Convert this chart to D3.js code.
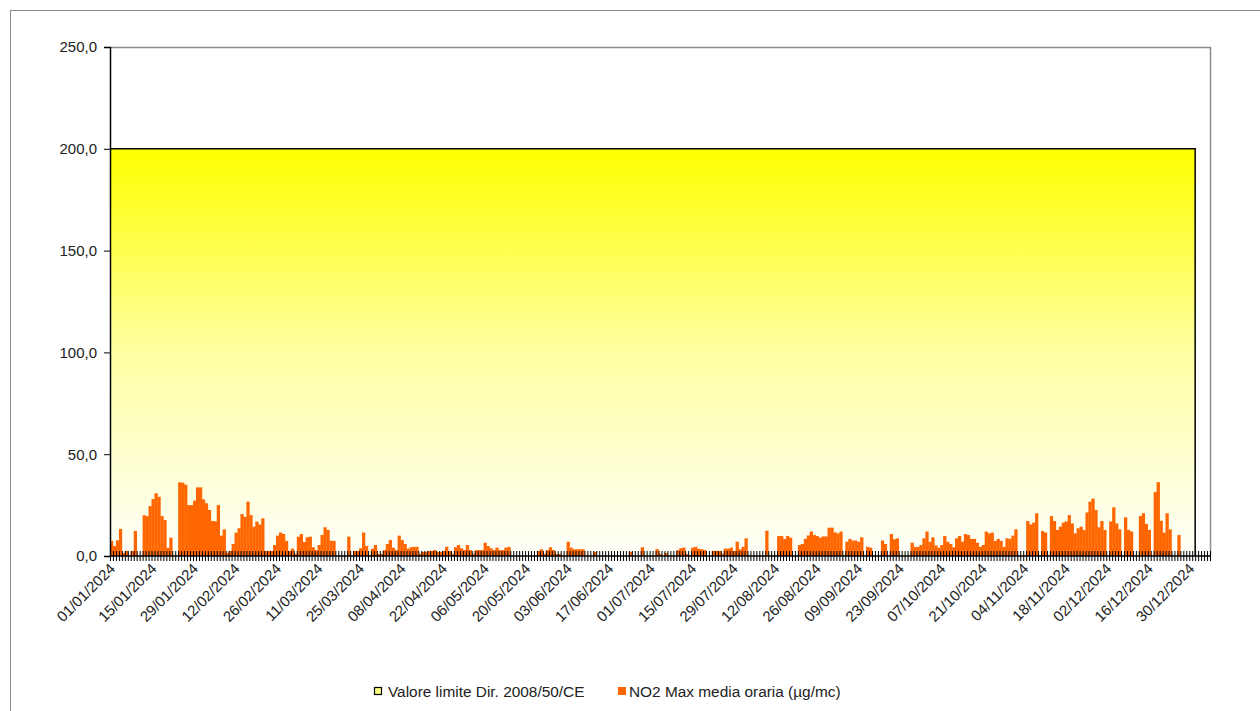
<!DOCTYPE html>
<html>
<head>
<meta charset="utf-8">
<script src="https://cdn.jsdelivr.net/npm/d3@7"></script>
<style>
  body { margin: 0; background: #fff; }
  text { font-family: Arial, "Liberation Sans", sans-serif; fill: #222; }
</style>
</head>
<body>
<div id="chart"></div>
<script>
// NO2 max media oraria, one value per day of 2024 (null = no data)
var jan = [7.4,4.9,7.7,13.3,1.5,2.5,null,2.5,12.3,null, null,20,19.6,24.5,28,30.8,29.1,19.6,17.7,4, 9,null,null,36.2,36,35,25,25,27.2,33.7, 33.7];
var feb = [27.8,25.9,22.6,17.2,17,25,10,13.1,1.5,2.5, 5.9,11.5,13.6,20.6,19.2,26.7,20.1,14.4,16.9,15.5, 18.5,2.5,2.5,2.5,5.4,10,11.5,10.8,7.4];
var mar = [2.5,3.6,1,9.5,10.8,6.9,9.2,9.5,4.3,2.9, 5.4,10.3,14.1,12.8,7.5,7.4,null,null,null,null, 9.5,null,2.5,2.5,3.8,11.5,4.9,null,3.6,5.4, 1];
var apr = [1,2.9,5.9,7.9,4.1,2.9,10,7.9,5.9,3.6, 4.3,4.5,4.5,1,2,2,2.5,2.5,2.9,2, 2,2.5,4.5,2.5,1,4.3,5.4,3.8,2.9,5.4];
var may = [2.9,1,2.9,2.9,2.9,6.5,4.9,3.8,2.9,4.1, 2.9,2.9,4.1,4.5,null,null,null,null,null,null, null,null,null,2.5,3.3,1,2.9,4.3,2.9,1, 1];
var jun = [null,null,7,4.1,3.3,3.3,3.3,3.3,null,null, null,2,null,null,null,null,null,null,null,null, null,null,null,2,null,null,null,4.3,null,null];
var jul = [null,null,3.4,1,null,1.5,null,null,null,2.9, 3.8,4.1,1,null,4.1,4.5,3.6,3.3,2.9,null, null,2.5,2.5,2.5,1,3.6,3.6,4.1,2.5,7, 3.3];
var aug = [4.5,8.7,null,null,null,null,null,null,12.4,null, null,null,9.8,9.8,8.4,9.8,9,null,null,5.4, 5.9,8.4,10.1,12,10.3,9.8,9,9.6,9.6,13.9, 13.9];
var sep = [11.6,11.1,12,null,7,8.4,7.6,7.6,7,9.2, null,4.5,4.1,null,null,null,7.6,5.9,null,10.8, 8.2,8.7,null,null,null,null,6.5,4.5,4.5,5.4];
var oct = [8.7,12,7,9.2,5.2,4.1,5.4,9.8,7,5.9, 4.3,8.7,9.8,7,10.8,10.3,8.4,8.4,6.5,4.5, 5.4,12,11.1,11.5,7.4,8.4,7.4,4.5,8.7,8.4, 10];
var nov = [13.1,null,null,null,17.2,15.5,16.4,21,null,12.3, 11.5,null,19.6,17.2,12.8,14.4,16.4,17,20.1,16, 11.1,13.6,14.4,12.8,21.4,26.7,28.2,22.6,14.1,17.2];
var dec = [12.8,null,17,23.9,16,13.1,null,19,12.8,12, null,null,19.6,21,15.8,12.8,null,31.4,36.3,17.3, 11.5,21,13.1,null,null,10.3,null,null,null,null, null];

var no2 = [].concat(jan, feb, mar, apr, may, jun, jul, aug, sep, oct, nov, dec);
var limitValue = 200;
var limit = no2.map(function(){ return limitValue; });

var dateLabels = ["01/01/2024","15/01/2024","29/01/2024","12/02/2024","26/02/2024","11/03/2024","25/03/2024",
  "08/04/2024","22/04/2024","06/05/2024","20/05/2024","03/06/2024","17/06/2024","01/07/2024","15/07/2024",
  "29/07/2024","12/08/2024","26/08/2024","09/09/2024","23/09/2024","07/10/2024","21/10/2024","04/11/2024",
  "18/11/2024","02/12/2024","16/12/2024","30/12/2024"];
var labelStep = 14;
var yTicks = [0, 50, 100, 150, 200, 250];
var seriesNames = ["Valore limite Dir. 2008/50/CE", "NO2 Max media oraria (\u00b5g/mc)"];

var w = 1260, h = 711;
var plotLeft = 110, plotRight = 1210, plotTop = 47, plotBottom = 556;
var nCat = 371; // axis runs a few slots past 31/12

var svg = d3.select("#chart").append("svg").attr("width", w).attr("height", h);
svg.append("rect").attr("width", w).attr("height", h).attr("fill", "#fff");
svg.append("rect").attr("x", 10.5).attr("y", 10.5).attr("width", w).attr("height", h)
  .attr("fill", "none").attr("stroke", "#8c8c8c");

var x = d3.scaleBand().domain(d3.range(nCat)).range([plotLeft, plotRight]).padding(0);
var xl = d3.scaleLinear().domain([0, nCat]).range([plotLeft, plotRight]);
var y = d3.scaleLinear().domain([0, 250]).range([plotBottom, plotTop]);
var bw = x.bandwidth();

var grad = svg.append("defs").append("linearGradient").attr("id", "limGrad")
  .attr("x1", 0).attr("y1", 0).attr("x2", 0).attr("y2", 1);
grad.append("stop").attr("offset", "0%").attr("stop-color", "#ffff00");
grad.append("stop").attr("offset", "50%").attr("stop-color", "#ffffa2");
grad.append("stop").attr("offset", "100%").attr("stop-color", "#fffffa");

// plot area border (top / right)
svg.append("path").attr("d", "M" + plotLeft + "," + (plotTop + 0.5) + "H" + (plotRight + 0.5) + "V" + plotBottom)
  .attr("fill", "none").attr("stroke", "#8c8c8c").attr("stroke-width", 1.5);

// limit series as area
var limPts = limit.concat([limit[limit.length - 1]]);
var area = d3.area().x(function(d, i){ return xl(i); }).y0(y(0)).y1(function(d){ return y(d); }).curve(d3.curveStepAfter);
svg.append("path").datum(limPts).attr("d", area).attr("fill", "url(#limGrad)");
var line = d3.line().x(function(d, i){ return xl(i); }).y(function(d){ return y(d); }).curve(d3.curveStepAfter);
svg.append("path").datum(limPts).attr("d", function(d){ return line(d) + "V" + y(0); })
  .attr("fill", "none").attr("stroke", "#000").attr("stroke-width", 1.5);

// NO2 bars
var barData = no2.map(function(v, i){ return {i: i, v: v}; }).filter(function(d){ return d.v != null; });
svg.append("g").selectAll("rect").data(barData).join("rect")
  .attr("x", function(d){ return x(d.i); })
  .attr("y", function(d){ return y(d.v); })
  .attr("width", bw + 0.3)
  .attr("height", function(d){ return y(0) - y(d.v); })
  .attr("fill", "#ff6600");

// y axis
var yAxis = d3.axisLeft(y).tickValues(yTicks).tickSize(6).tickPadding(7)
  .tickFormat(function(d){ return d3.format(".1f")(d).replace(".", ","); });
var gy = svg.append("g").attr("transform", "translate(" + plotLeft + ",0)").call(yAxis);
gy.select(".domain").attr("stroke", "#000").attr("stroke-width", 1.5);
gy.selectAll(".tick line").attr("stroke", "#000");
gy.selectAll("text").style("font-size", "15px").attr("fill", "#222").style("font-family", "Arial, 'Liberation Sans', sans-serif");

// x axis: crossing ticks at every day
var xAxis = d3.axisBottom(xl).tickValues(d3.range(nCat + 1)).tickSize(10).tickFormat("");
var gx = svg.append("g").attr("transform", "translate(0," + (plotBottom - 5) + ")").call(xAxis);
gx.select(".domain").remove();
gx.selectAll(".tick line").attr("stroke", "#000").attr("stroke-width", 1);
svg.append("line").attr("x1", plotLeft).attr("x2", plotRight).attr("y1", plotBottom).attr("y2", plotBottom)
  .attr("stroke", "#000").attr("stroke-width", 1.5);

svg.append("g").selectAll("text").data(dateLabels).join("text")
  .attr("transform", function(d, i){ return "translate(" + (x(i * labelStep) + bw / 2 + 1) + "," + (plotBottom + 10) + ") rotate(-45)"; })
  .attr("text-anchor", "end")
  .attr("dy", "0.35em")
  .style("font-size", "15px")
  .attr("fill", "#222")
  .text(function(d){ return d; });

// legend
var legend = svg.append("g");
legend.append("rect").attr("x", 374.5).attr("y", 687.5).attr("width", 7).attr("height", 7)
  .attr("fill", "#ffff80").attr("stroke", "#000").attr("stroke-width", 1.2);
legend.append("text").attr("x", 388).attr("y", 697).style("font-size", "15.4px").attr("fill", "#222").text(seriesNames[0]);
legend.append("rect").attr("x", 618).attr("y", 687).attr("width", 8).attr("height", 8).attr("fill", "#ff6600");
legend.append("text").attr("x", 629).attr("y", 697).style("font-size", "15.4px").attr("fill", "#222").text(seriesNames[1]);
</script>
</body>
</html>
